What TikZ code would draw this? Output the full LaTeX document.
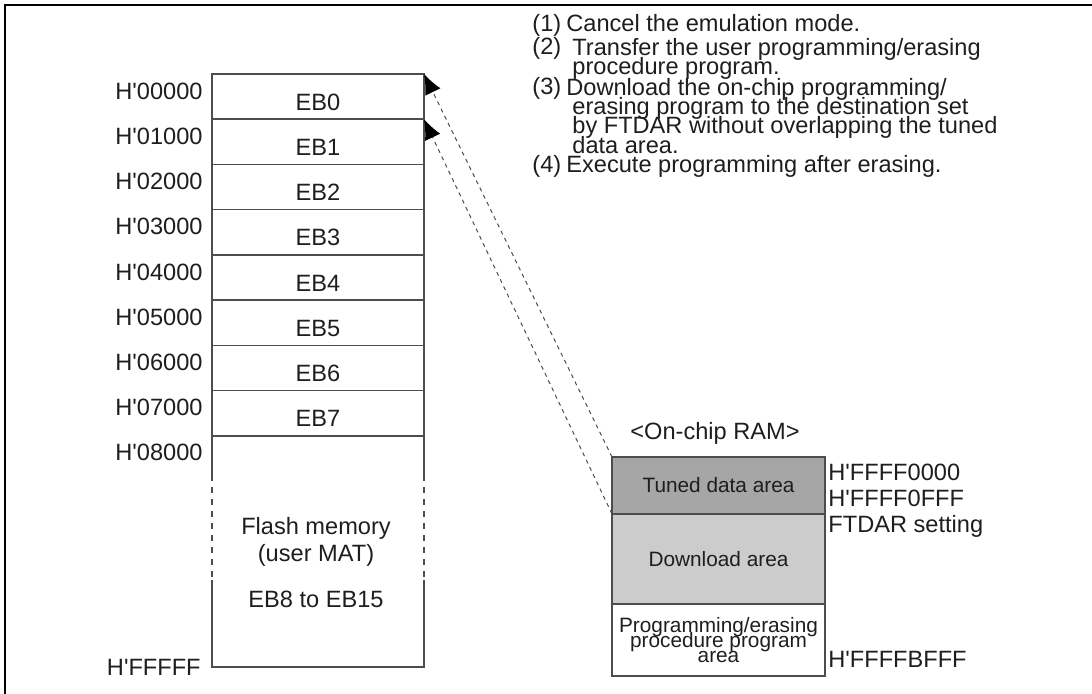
\documentclass[tikz,border=0pt]{standalone}
\usepackage{fontspec}
\setmainfont{Liberation Sans}
\usetikzlibrary{positioning,arrows.meta}
\definecolor{Ink}{HTML}{1E1E1E}
\definecolor{Edge}{HTML}{4D4D4D}
\definecolor{Tuned}{HTML}{A6A6A6}
\definecolor{Download}{HTML}{CCCCCC}
\newcommand{\hq}{H\textquotesingle}
\newcommand{\tightlines}{\lineskiplimit=-20pt\relax}

\begin{document}
\begin{tikzpicture}[x=0.5pt,y=-0.5pt,
        blk/.style={draw=Edge,line width=.75pt,minimum width=106pt,minimum height=22.625pt,
                    inner sep=0pt,outer sep=0pt,text height=13.5pt,text depth=0pt,
                    font=\fontsize{11.8}{13.5}\selectfont,text=Ink},
        ram/.style={draw=Edge,line width=.75pt,minimum width=106.5pt,inner sep=0pt,outer sep=0pt,
                    align=center,font=\fontsize{10.4}{7.6}\selectfont\tightlines,text=Ink},
        addr/.style={anchor=east,inner sep=0pt,font=\fontsize{11.8}{13.5}\selectfont,text=Ink},
        tag/.style={anchor=west,inner sep=0pt,font=\fontsize{11.8}{13.5}\selectfont,text=Ink},
        note/.style={anchor=base west,inner sep=0pt,
                     font=\fontsize{11.8}{9.6}\selectfont\tightlines,text=Ink},
        edge/.style={draw=Edge,line width=.75pt},
        conn/.style={Edge,line width=.5pt,dash pattern=on 2pt off 2pt,
                     -{Latex[length=10pt,width=8.5pt,color=black]}}
      ]
        \useasboundingbox (0,0) rectangle (1092,694);
        \draw[black,line width=1.25pt] (5,694) -- (5,5) -- (1092,5);

        % user MAT blocks
        \node[blk,anchor=north west] (eb0) at (212,74) {EB0};
        \foreach \i [remember=\i as \j (initially 0)] in {1,...,7}
          \node[blk,below=0pt of eb\j] (eb\i) {EB\i};
        \foreach \i in {0,...,7}
          \node[addr] (a\i) at ([xshift=-4.5pt,yshift=-8.5pt]eb\i.north west) {\hq0\i000};
        \node[minimum width=106pt,minimum height=115.5pt,inner sep=0pt,outer sep=0pt,
              below=0pt of eb7] (flash) {};
        \draw[edge] (flash.north west) -- ++(0,39) ++(0,105) -- (flash.south west)
          -- (flash.south east) -- ++(0,-87) ++(0,-105) -- (flash.north east);
        \draw[edge,dash pattern=on 3pt off 3pt] ([yshift=-19.5pt]flash.north west) -- ++(0,105)
          ([yshift=-19.5pt]flash.north east) -- ++(0,105);
        \node[align=center,inner sep=0pt,font=\fontsize{11.8}{13.5}\selectfont,text=Ink]
          (flashtxt) at ([xshift=-1pt,yshift=-5.75pt]flash.center)
          {Flash memory\\(user MAT)\\[9.5pt]EB8 to EB15};
        \node[addr] (a8) at ([xshift=-4.5pt,yshift=-8pt]flash.north west) {\hq08000};
        \node[addr] (a9) at ([xshift=-5.5pt]flash.south west) {\hq FFFFF};

        % on-chip RAM
        \node[ram,fill=Tuned,minimum height=28.5pt,anchor=north west] (tuned) at (612,457)
          {Tuned data area};
        \node[ram,fill=Download,minimum height=45pt,below=0pt of tuned] (dl) {Download area};
        \node[ram,minimum height=36pt,below=0pt of dl] (prog)
          {Programming/erasing\\procedure program\\area};
        \node[inner sep=0pt,font=\fontsize{11.8}{13.5}\selectfont,text=Ink] (ramtitle)
          at ([xshift=-1.75pt,yshift=12pt]tuned.north) {<On-chip RAM>};
        \node[tag] (r1) at ([xshift=1.5pt,yshift=-7.5pt]tuned.north east) {\hq FFFF0000};
        \node[tag] (r2) at ([xshift=1.5pt,yshift=8pt]tuned.south east) {\hq FFFF0FFF};
        \node[tag] (r3) at ([xshift=1.5pt,yshift=-6pt]tuned.south east) {FTDAR setting};
        \node[tag] (r4) at ([xshift=1.5pt,yshift=8.5pt]prog.south east) {\hq FFFFBFFF};

        \draw[conn] (tuned.north west) -- (eb0.north east);
        \draw[conn] (tuned.south west) -- (eb1.north east);

        % procedure
        \foreach \n/\y in {1/32,2/55,3/95,4/173}
          \node[note] (n\n) at (532,\y) {(\n)};
        \node[note] (s1) at (566,32) {Cancel the emulation mode.};
        \node[note,align=left,anchor=north west] (s2) at (572,38)
          {Transfer the user programming/erasing\\procedure program.};
        \node[note,align=left,anchor=north west] (s3) at (566,78) {Download the on-chip programming/\\
          \hspace*{3pt}erasing program to the destination set\\
          \hspace*{3pt}by FTDAR without overlapping the tuned\\
          \hspace*{3pt}data area.};
        \node[note] (s4) at (566,173) {Execute programming after erasing.};
      \end{tikzpicture}
\end{document}
